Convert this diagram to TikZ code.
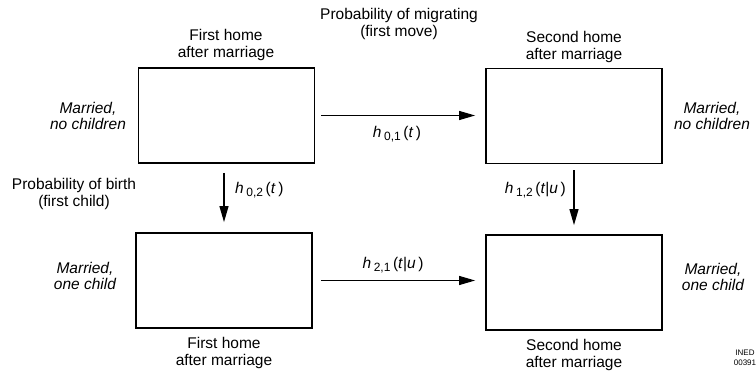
\documentclass[tikz,border=0pt]{standalone}
\usepackage{fontspec}
\setmainfont{Liberation Sans}
\usetikzlibrary{arrows.meta}
\tikzset{
  statebox/.style={draw, line width=1.8pt, minimum width=176pt, minimum height=95pt, inner sep=0pt},
  lbl/.style={align=center, font=\fontsize{15.5}{16.5}\selectfont, inner sep=0pt},
  ilbl/.style={align=center, font=\fontsize{15.5}{16.5}\selectfont\itshape, inner sep=0pt},
  hlbl/.style={font=\fontsize{15.5}{16}\selectfont, inner sep=0pt},
  arr/.style={line width=1.2pt, -{Triangle[length=16pt,width=9pt]}},
  ined/.style={align=center, font=\fontsize{8}{10}\selectfont, inner sep=0pt}
}
\newcommand{\hsub}[1]{{\fontsize{12}{12}\selectfont\raisebox{-2.5pt}{#1}}}
\begin{document}
\begin{tikzpicture}[x=1pt,y=-1pt]
\useasboundingbox (0,0) rectangle (756,371);
% boxes
\node[statebox] (b1) at (226.5,115.5) {};
\node[statebox] (b2) at (574,116) {};
\node[statebox] (b3) at (224,280.5) {};
\node[statebox] (b4) at (574,282.5) {};
% top labels
\node[lbl] (t1) at (226,45) {First home\\after marriage};
\node[lbl] (t0) at (399,24) {Probability of migrating\\(first move)};
\node[lbl] (t2) at (574,47) {Second home\\after marriage};
% bottom labels
\node[lbl] (t3) at (224,353) {First home\\after marriage};
\node[lbl] (t4) at (574,355) {Second home\\after marriage};
% side labels
\node[ilbl] (s1) at (88,116) {Married,\\no children};
\node[ilbl] (s2) at (712,116) {Married,\\no children};
\node[ilbl] (s3) at (85,276) {Married,\\one child};
\node[ilbl] (s4) at (713,277) {Married,\\one child};
\node[lbl] (pb) at (74,194) {Probability of birth\\(first child)};
\node[ined] (in) at (745,358) {INED\\00391};
% arrows
\draw[arr, shorten <=6pt, shorten >=10pt] (b1.east) -- (b1.east -| b2.west);
\draw[arr, shorten <=8pt, shorten >=10pt] (b3.east) -- (b3.east -| b4.west);
\draw[arr, shorten <=9pt, shorten >=10pt] (b1.south -| b3.north) -- (b3.north);
\draw[arr, shorten <=6pt, shorten >=9pt] (b2.south) -- (b4.north);
% rate labels
\node[hlbl] (h01) at (397,134) {\textit{h}\,\hsub{0,1}\,(\textit{t}\,)};
\node[hlbl, anchor=west] (h02) at (235,190) {\textit{h}\,\hsub{0,2}\,(\textit{t}\,)};
\node[hlbl, anchor=east] (h12) at (566,190) {\textit{h}\,\hsub{1,2}\,(\textit{t}|\textit{u}\,)};
\node[hlbl] (h21) at (393,265) {\textit{h}\,\hsub{2,1}\,(\textit{t}|\textit{u}\,)};
\end{tikzpicture}
\end{document}
